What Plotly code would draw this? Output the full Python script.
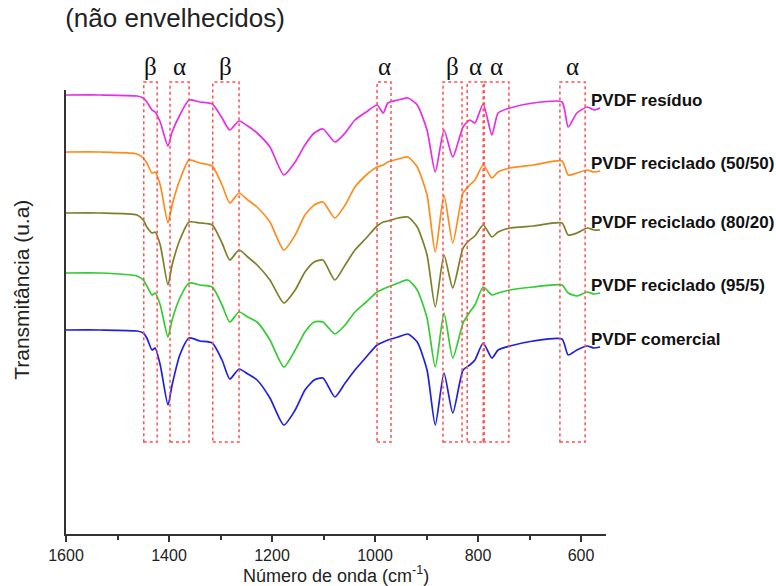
import plotly.graph_objects as go

# Wavenumber axis (cm^-1)
wavenumber = [1600, 1534, 1462, 1450, 1443, 1433, 1427, 1417, 1402, 1394, 1379, 1361, 1340, 1316,
              1297, 1282, 1264, 1247, 1229, 1204, 1177, 1155, 1136, 1118, 1101, 1078, 1058, 1039,
              1017, 996, 984, 975, 955, 936, 918, 899, 883, 866, 849, 829, 816, 806, 790, 773,
              761, 738, 693, 637, 625, 608, 588, 575, 563]

# Transmittance (arbitrary units, already vertically offset)
pvdf_residuo = [439, 439, 438, 436, 432, 424, 422, 412, 388, 402, 419, 434, 432, 430, 416, 404, 413,
                408, 401, 387, 359, 372, 389, 401, 405, 392, 401, 414, 422, 429, 421, 431, 434, 436,
                429, 404, 362, 404, 377, 407, 414, 411, 430, 399, 421, 426, 431, 432, 407, 421, 427,
                424, 426]
pvdf_50_50 = [382, 382, 380, 376, 371, 361, 362, 349, 311, 329, 354, 374, 371, 368, 349, 331, 341,
              334, 327, 312, 284, 299, 319, 329, 332, 316, 329, 347, 359, 367, 369, 372, 375, 377,
              367, 339, 282, 339, 291, 341, 349, 354, 369, 356, 362, 366, 369, 373, 359, 361, 364,
              362, 363]
pvdf_80_20 = [321, 321, 319, 314, 307, 301, 302, 289, 249, 269, 294, 312, 311, 309, 291, 274, 284,
              277, 269, 254, 231, 244, 262, 272, 274, 254, 269, 284, 296, 308, 312, 313, 316, 317,
              307, 279, 227, 279, 246, 286, 294, 298, 309, 297, 302, 306, 308, 311, 299, 301, 306,
              304, 304]
pvdf_95_5 = [261, 261, 258, 254, 248, 239, 241, 229, 197, 214, 236, 251, 249, 247, 229, 212, 222,
             217, 212, 194, 167, 184, 202, 212, 212, 200, 209, 222, 232, 242, 245, 247, 251, 254,
             244, 216, 167, 221, 176, 211, 222, 229, 247, 239, 241, 244, 247, 249, 241, 238, 242,
             240, 241]
pvdf_comercial = [204, 204, 203, 201, 196, 184, 186, 169, 129, 149, 179, 196, 193, 191, 174, 155,
                  165, 160, 154, 136, 109, 124, 144, 154, 156, 137, 151, 164, 177, 189, 192, 194,
                  197, 200, 192, 164, 109, 161, 121, 164, 169, 174, 191, 176, 184, 188, 193, 195,
                  179, 184, 188, 186, 187]

series_names = ["PVDF resíduo", "PVDF reciclado (50/50)", "PVDF reciclado (80/20)",
                "PVDF reciclado (95/5)", "PVDF comercial"]
series_values = [pvdf_residuo, pvdf_50_50, pvdf_80_20, pvdf_95_5, pvdf_comercial]
series_colors = ["#e62ee6", "#ff8c1a", "#7f7f2a", "#33cc33", "#2020e0"]

# Phase bands (cm^-1): start, end, label
band_start = [1449, 1398, 1315, 996, 868, 821, 790, 641]
band_end = [1423, 1361, 1264, 969, 831, 788, 740, 592]
band_label = ["β", "α", "β", "α", "β", "α", "α", "α"]

x_ticks = [1600, 1400, 1200, 1000, 800, 600]

SANS = "Liberation Sans, Arial, sans-serif"

fig = go.Figure()
for name, vals, col in zip(series_names, series_values, series_colors):
    fig.add_trace(go.Scatter(x=wavenumber, y=vals, mode="lines", name=name,
                             line=dict(color=col, width=1.7, shape="spline", smoothing=0.6),
                             showlegend=False, hoverinfo="skip"))
    fig.add_annotation(x=585, y=vals[-1] + 8, xref="x", yref="y",
                       text="<b>" + name + "</b>", showarrow=False, xanchor="left",
                       yanchor="middle", font=dict(family=SANS, size=17, color="#111"))

for x0, x1, lab in zip(band_start, band_end, band_label):
    fig.add_shape(type="rect", xref="x", yref="paper", x0=x0, x1=x1, y0=0.207, y1=1.018,
                  line=dict(color="#ff5050", width=1.5, dash="dot"), layer="above")
    fig.add_annotation(x=(x0 + x1) / 2, y=1.054, xref="x", yref="paper", text=lab,
                       showarrow=False, xanchor="center", yanchor="middle",
                       font=dict(family="Liberation Serif, Times New Roman, serif", size=25,
                                 color="#111"))

fig.add_annotation(x=-0.0815, y=0.55, xref="paper", yref="paper", text="Transmitância (u.a)",
                   textangle=-90, showarrow=False, xanchor="center", yanchor="middle",
                   font=dict(family=SANS, size=21, color="#222"))
fig.add_annotation(x=0.5, y=-0.0901, xref="paper", yref="paper",
                   text="Número de onda (cm<sup>-1</sup>)", showarrow=False,
                   xanchor="center", yanchor="middle",
                   font=dict(family=SANS, size=18, color="#222"))

fig.update_layout(
    width=776, height=586, autosize=False,
    margin=dict(l=66, r=170, t=90, b=52, autoexpand=False),
    paper_bgcolor="white", plot_bgcolor="white",
    title=dict(text="(não envelhecidos)", x=0.084, xanchor="left", y=0.969, yanchor="middle",
               font=dict(family=SANS, size=26, color="#222")),
    xaxis=dict(range=[1600, 551.5], tickvals=x_ticks, ticks="outside", ticklen=6, tickwidth=1.5,
               tickcolor="#333", showline=True, linecolor="#333", linewidth=1.5,
               showgrid=False, zeroline=False, automargin=False,
               minor=dict(dtick=100, tick0=1600, ticks="outside", ticklen=4, tickwidth=1.5,
                          tickcolor="#333", showgrid=False),
               tickfont=dict(family=SANS, size=16, color="#222")),
    yaxis=dict(range=[0, 444], showline=True, linecolor="#333", linewidth=1.5, automargin=False,
               showticklabels=False, ticks="", showgrid=False, zeroline=False),
)

fig.write_html("out.html",
               config={"displayModeBar": False, "responsive": False},
               post_script="document.documentElement.style.overflow='hidden';"
                           "document.body.style.margin='0';document.body.style.overflow='hidden';")
